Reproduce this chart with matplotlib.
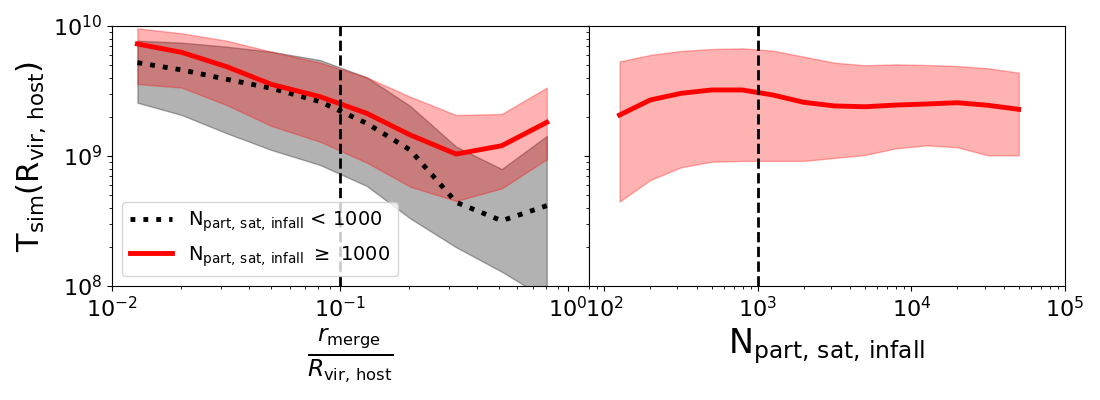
import numpy as np
import matplotlib
matplotlib.use("Agg")
import matplotlib.pyplot as plt

# left panel: r_merge / R_vir,host bins
rBins = [0.0129, 0.0202, 0.0318, 0.050, 0.0817, 0.131, 0.203, 0.323, 0.512, 0.807]
# log10 of T_sim, low-N satellites (< 1000 particles)
lowMed = [9.718, 9.662, 9.590, 9.521, 9.418, 9.251, 9.046, 8.644, 8.502, 8.618]
lowUp = [9.887, 9.872, 9.841, 9.802, 9.738, 9.605, 9.385, 9.072, 8.900, 9.154]
lowLo = [9.410, 9.315, 9.175, 9.046, 8.931, 8.769, 8.520, 8.298, 8.110, 7.900]
# high-N satellites (>= 1000 particles)
highMed = [9.862, 9.797, 9.687, 9.551, 9.456, 9.328, 9.162, 9.015, 9.079, 9.259]
highUp = [9.982, 9.944, 9.887, 9.802, 9.718, 9.605, 9.456, 9.315, 9.323, 9.526]
highLo = [9.554, 9.526, 9.392, 9.231, 9.110, 8.949, 8.764, 8.654, 8.751, 8.975]

# right panel: N_part,sat,infall bins (log10)
nBinsLog = [2.1, 2.3, 2.5, 2.7, 2.9, 3.1, 3.3, 3.5, 3.7, 3.9, 4.1, 4.3, 4.5, 4.7]
nMed = [9.315, 9.431, 9.482, 9.508, 9.508, 9.469, 9.413, 9.385, 9.379, 9.392, 9.400, 9.410, 9.390, 9.359]
nUp = [9.728, 9.777, 9.808, 9.823, 9.828, 9.810, 9.764, 9.718, 9.698, 9.705, 9.700, 9.692, 9.675, 9.641]
nLo = [8.649, 8.815, 8.913, 8.956, 8.962, 8.962, 8.962, 8.985, 9.008, 9.059, 9.082, 9.067, 9.005, 9.005]

def p(a) :
	return 10**np.array(a)

fig, (ax1, ax2) = plt.subplots(1, 2, sharey=True, figsize=(11, 4), dpi=100)
fig.subplots_adjust(left=0.102, right=0.968, top=0.935, bottom=0.285, wspace=0)

lowLabel = r'$\mathrm{N_{part,\,sat,\,infall}}$ < 1000'
highLabel = r'$\mathrm{N_{part,\,sat,\,infall}}$ $\geq$ 1000'

ax1.fill_between(rBins, p(lowLo), p(lowUp), color='k', alpha=0.3)
ax1.fill_between(rBins, p(highLo), p(highUp), color='red', alpha=0.3)
ax1.plot(rBins, p(lowMed), 'k:', lw=3.5, label=lowLabel)
ax1.plot(rBins, p(highMed), 'r-', lw=3.5, label=highLabel)
ax1.axvline(0.1, color='k', ls='--', lw=2)
ax1.set_xscale('log')
ax1.set_yscale('log')
ax1.set_xlim(1e-2, 1.23)
ax1.set_ylim(1e8, 1e10)
ax1.set_xlabel(r'$\frac{r_{\rm merge}}{R_{\rm vir,\,host}}$', fontsize=24)
ax1.set_ylabel(r'$\mathrm{T_{sim}(R_{vir,\,host})}$', fontsize=22)
ax1.legend(loc='lower left', fontsize=14, handlelength=2.2)

nBins = p(nBinsLog)
ax2.fill_between(nBins, p(nLo), p(nUp), color='red', alpha=0.3)
ax2.plot(nBins, p(nMed), 'r-', lw=3.5)
ax2.axvline(1e3, color='k', ls='--', lw=2)
ax2.set_xscale('log')
ax2.set_xlim(79, 1e5)
ax2.set_xlabel(r'$\mathrm{N_{part,\,sat,\,infall}}$', fontsize=24)

for ax in (ax1, ax2) :
	ax.tick_params(labelsize=16)

plt.savefig("out.png")
plt.close()
